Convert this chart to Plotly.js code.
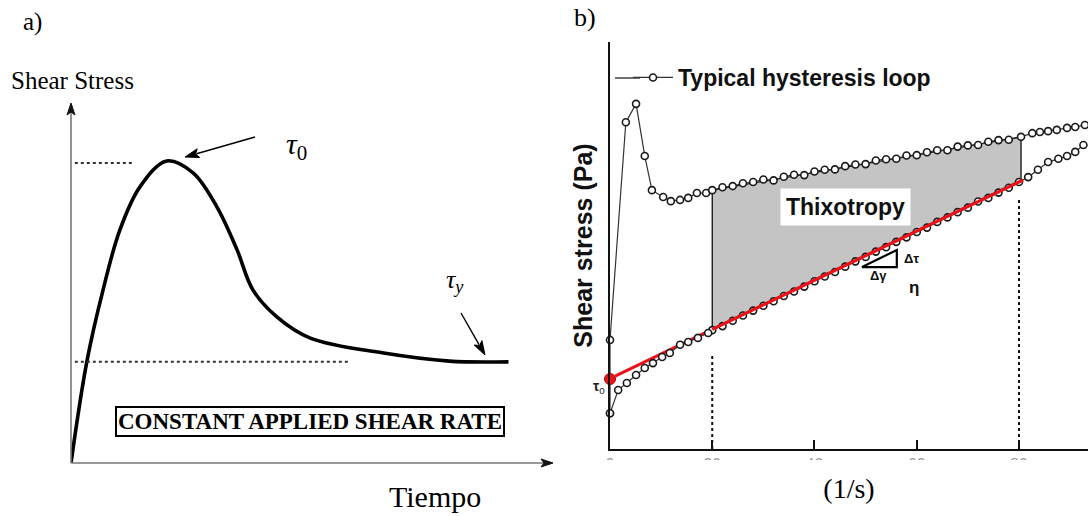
<!DOCTYPE html>
<html>
<head>
<meta charset="utf-8">
<script src="https://cdn.plot.ly/plotly-3.0.1.min.js"></script>
<style>html,body{margin:0;padding:0;background:#fff;}#chart{width:1088px;height:516px;}</style>
</head>
<body>
<div id="chart"></div>
<script>
// ---------- Panel a: stress growth at constant shear rate ----------
const curveTime   = [0, 0.33, 0.67, 1.02, 1.44, 2.0, 2.55, 3.05, 3.47, 3.80, 4.30, 5.0, 6.5, 7.9, 9.14];
const curveStress = [0, 2.81, 4.81, 6.47, 7.67, 8.39, 8.06, 7.11, 5.92, 4.81, 4.06, 3.47, 3.06, 2.83, 2.81];
const tau0Level = 8.33;   // peak stress
const tauyLevel = 2.81;   // equilibrium stress
const tau0GuideX = [0.08, 1.29];
const tauyGuideX = [0.08, 5.82];

// ---------- Panel b: hysteresis loop ----------
const upRate = [0, 0, 3.1, 5.1, 6.8, 8.2, 10.4, 11.9, 13.7, 15.3, 17.0, 18.8,
  20, 22, 24, 26, 28, 30, 32, 34, 36, 38, 40, 42, 44, 46, 48, 50, 52, 54, 56, 58,
  60, 62, 64, 66, 68, 70, 72, 74, 76, 78, 80.4, 82.6, 84.1, 85.7, 87.4, 89.4, 91.0, 92.9];
const upStress = [8.8, 26.8, 80.3, 84.8, 72.0, 63.6, 61.9, 60.9, 61.2, 61.7, 62.9, 62.9,
  63.6, 64.3, 64.6, 65.3, 65.6, 66.2, 66.0, 66.9, 67.4, 67.3, 68.2, 68.6, 68.7, 69.5, 69.9, 70.0, 70.9, 71.2, 71.3, 72.1,
  72.2, 72.9, 73.4, 73.4, 74.3, 74.6, 74.7, 75.5, 75.9, 76.0, 76.7, 77.6, 77.9, 78.1, 78.4, 78.9, 79.1, 79.6];
const downRate = [92.6, 91.0, 89.4, 87.7, 85.7, 83.7, 81.8,
  80, 78, 76, 74, 72, 70, 68, 66, 64, 62, 60, 58, 56, 54, 52, 50, 48, 46, 44, 42, 40, 38, 36, 34, 32, 30, 28, 26, 24, 22, 20,
  19.2, 17.2, 15.3, 13.7, 11.7, 10.2, 8.4, 6.8, 5.1, 3.3, 1.6, 0];
const downStress = [74.7, 73.0, 72.0, 71.3, 70.5, 68.6, 66.8,
  65.6, 64.2, 63.0, 61.7, 60.8, 59.3, 58.2, 56.9, 55.8, 54.4, 53.3, 52.0, 50.9, 49.6, 48.5, 47.2, 46.1, 44.8, 43.5, 42.4, 41.2, 39.9, 38.7, 37.6, 36.3, 35.2, 34.0, 32.8, 31.5, 30.2, 29.2,
  28.5, 27.3, 26.3, 25.6, 23.6, 22.6, 21.1, 19.9, 18.2, 16.2, 14.5, 8.8];
const thixoRate   = [20, 80.4, 80.4, 20, 20];
const thixoStress = [63.6, 76.7, 66.1, 29.5, 63.6];
const binghamRate   = [1, 20, 80.8];
const binghamStress = [17.9, 29.4, 66.1];
const yieldStress = [17.2];
const guideRate = [20, 80];
const guideTop  = [23.6, 61.9];
const rateTicks = [0, 20, 40, 60, 80];

const W = 1088, H = 516;
const px = v => v / W, py = v => 1 - v / H;

const serif = 'Liberation Serif, Times New Roman, serif';
const sans = 'Liberation Sans, Arial, sans-serif';

const loopMarker = {symbol: 'circle', size: 7, color: '#ffffff', line: {color: '#1a1a1a', width: 1.6}};

const traces = [
  // panel a
  {x: curveTime, y: curveStress, xaxis: 'x', yaxis: 'y', mode: 'lines', showlegend: false,
   line: {color: '#000', width: 3.6, shape: 'spline', smoothing: 1}},
  {x: tau0GuideX, y: [tau0Level, tau0Level], xaxis: 'x', yaxis: 'y', mode: 'lines', showlegend: false,
   line: {color: '#333', width: 2, dash: 'dot'}},
  {x: tauyGuideX, y: [tauyLevel, tauyLevel], xaxis: 'x', yaxis: 'y', mode: 'lines', showlegend: false,
   line: {color: '#333', width: 2, dash: 'dot'}},
  // panel b
  {x: thixoRate, y: thixoStress, xaxis: 'x2', yaxis: 'y2', mode: 'lines', fill: 'toself', showlegend: false,
   fillcolor: '#c4c4c4', line: {color: '#111', width: 1.3}},
  {x: [guideRate[0], guideRate[0]], y: [0, guideTop[0]], xaxis: 'x2', yaxis: 'y2', mode: 'lines', showlegend: false,
   line: {color: '#111', width: 2, dash: 'dot'}},
  {x: [guideRate[1], guideRate[1]], y: [0, guideTop[1]], xaxis: 'x2', yaxis: 'y2', mode: 'lines', showlegend: false,
   line: {color: '#111', width: 2, dash: 'dot'}},
  {x: binghamRate.slice(0, 2), y: binghamStress.slice(0, 2), xaxis: 'x2', yaxis: 'y2', mode: 'lines', showlegend: false,
   line: {color: '#ea1218', width: 3.2}},
  {x: upRate, y: upStress, xaxis: 'x2', yaxis: 'y2', mode: 'lines+markers', name: '<b>Typical hysteresis loop</b>',
   cliponaxis: false, line: {color: '#333', width: 1.2}, marker: loopMarker},
  {x: downRate, y: downStress, xaxis: 'x2', yaxis: 'y2', mode: 'lines+markers', showlegend: false,
   cliponaxis: false, line: {color: '#333', width: 1.2}, marker: loopMarker},
  {x: binghamRate.slice(1), y: binghamStress.slice(1), xaxis: 'x2', yaxis: 'y2', mode: 'lines', showlegend: false,
   line: {color: '#ea1218', width: 3.2}},
  {x: [0], y: yieldStress, xaxis: 'x2', yaxis: 'y2', mode: 'markers', showlegend: false, cliponaxis: false,
   marker: {color: '#e3161c', size: 11, line: {color: '#b00', width: 1}}}
];

// arrow helper (decorations drawn in pixel space -> paper coords)
function arrow(x0, y0, x1, y1, lineColor, headColor, lw, hl, hw) {
  const dx = x1 - x0, dy = y1 - y0, L = Math.hypot(dx, dy);
  const ux = dx / L, uy = dy / L;
  const bx = x1 - ux * hl, by = y1 - uy * hl;
  const nx = -uy, ny = ux;
  const lx = bx + nx * hw / 2, ly = by + ny * hw / 2;
  const rx = bx - nx * hw / 2, ry = by - ny * hw / 2;
  return [
    {type: 'line', xref: 'paper', yref: 'paper', x0: px(x0), y0: py(y0), x1: px(bx + ux * 2), y1: py(by + uy * 2),
     line: {color: lineColor, width: lw}},
    {type: 'path', xref: 'paper', yref: 'paper',
     path: `M${px(x1)},${py(y1)} L${px(lx)},${py(ly)} L${px(bx + ux * 3)},${py(by + uy * 3)} L${px(rx)},${py(ry)} Z`,
     line: {color: headColor, width: 1}, fillcolor: headColor}
  ];
}

const annotations = [
  // panel a labels
  {xref: 'paper', yref: 'paper', x: px(72), y: py(80), xanchor: 'center', yanchor: 'middle', text: 'Shear Stress', showarrow: false,
   font: {family: serif, size: 25, color: '#000'}},
  {xref: 'paper', yref: 'paper', x: px(32), y: py(22), xanchor: 'center', yanchor: 'middle', text: 'a)', showarrow: false,
   font: {family: serif, size: 25, color: '#000'}},
  {xref: 'paper', yref: 'paper', x: px(435), y: py(496), xanchor: 'center', yanchor: 'middle', text: 'Tiempo', showarrow: false,
   font: {family: serif, size: 30, color: '#000'}},
  {xref: 'x', yref: 'y', x: 4.72, y: 8.8, text: '<i>τ</i><sub>0</sub>', showarrow: false,
   font: {family: serif, size: 30, color: '#000'}},
  {xref: 'x', yref: 'y', x: 8.02, y: 5.05, text: '<i>τ</i><sub><i>y</i></sub>', showarrow: false,
   font: {family: serif, size: 26, color: '#000'}},
  {xref: 'x', yref: 'y', x: 4.99, y: 1.14, text: '<b>CONSTANT APPLIED SHEAR RATE</b>', showarrow: false,
   bordercolor: '#000', borderwidth: 2, borderpad: 1, bgcolor: '#fff',
   font: {family: serif, size: 23, color: '#000'}},
  // panel b labels
  {xref: 'paper', yref: 'paper', x: px(585), y: py(18), xanchor: 'center', yanchor: 'middle', text: 'b)', showarrow: false,
   font: {family: serif, size: 26, color: '#000'}},
  {xref: 'x2', yref: 'y2', x: 46.0, y: 59.5, text: '<b>Thixotropy</b>', showarrow: false,
   bgcolor: '#ffffff', borderpad: 5,
   font: {family: sans, size: 23, color: '#111'}},
  {xref: 'x2', yref: 'y2', x: 58.9, y: 46.7, text: '<b>Δτ</b>', showarrow: false,
   font: {family: sans, size: 13, color: '#111'}},
  {xref: 'x2', yref: 'y2', x: 52.6, y: 42.6, text: '<b>Δγ</b>', showarrow: false,
   font: {family: sans, size: 13, color: '#111'}},
  {xref: 'x2', yref: 'y2', x: 59.5, y: 39.6, text: '<b>η</b>', showarrow: false,
   font: {family: sans, size: 17, color: '#111'}},
  {xref: 'paper', yref: 'paper', x: px(599), y: py(387), xanchor: 'center', yanchor: 'middle', text: '<b>τ</b><sub>0</sub>', showarrow: false,
   font: {family: sans, size: 14, color: '#222'}}
];

const shapes = [].concat(
  arrow(71, 463, 71, 103, '#777', '#111', 1.6, 12, 8),
  arrow(71, 463, 553, 463, '#777', '#111', 1.6, 12, 8),
  arrow(255, 137, 185, 157, '#000', '#000', 1.4, 14, 9),
  arrow(461, 313, 485, 355, '#000', '#000', 1.4, 14, 9),
  [
    // slope triangle
    {type: 'path', xref: 'x2', yref: 'y2', path: 'M49.3,44.7 L56.1,44.7 L56.1,48.9 Z',
     line: {color: '#000', width: 2.2}, fillcolor: 'rgba(0,0,0,0)'},
    // legend line extension to the left
    {type: 'line', xref: 'paper', yref: 'paper', x0: px(615), x1: px(640), y0: py(78), y1: py(78),
     line: {color: '#333', width: 1.4}},
    // tick labels only partly visible in the source
    {type: 'rect', xref: 'paper', yref: 'paper', x0: px(600), x1: 1, y0: py(478), y1: py(460),
     line: {width: 0}, fillcolor: '#ffffff', layer: 'above'}
  ]
);

const layout = {
  width: W, height: H,
  margin: {l: 0, r: 0, t: 0, b: 0},
  paper_bgcolor: '#fff', plot_bgcolor: 'rgba(0,0,0,0)',
  showlegend: true,
  legend: {x: px(628), y: py(56), xanchor: 'left', yanchor: 'top', bgcolor: 'rgba(0,0,0,0)',
           font: {family: sans, size: 23, color: '#111'}, itemwidth: 40,
           tracegroupgap: 0},
  xaxis: {domain: [px(71), px(564)], range: [0, 10.3], visible: false, fixedrange: true},
  yaxis: {domain: [py(463), py(103)], range: [0, 10], visible: false, fixedrange: true},
  xaxis2: {domain: [px(610), 1], range: [0, 93.5], anchor: 'y2',
           showline: true, linecolor: '#111', linewidth: 2, showgrid: false, zeroline: false,
           tickvals: rateTicks, ticktext: rateTicks.map(String), ticks: 'inside', ticklen: 9, tickwidth: 2, tickcolor: '#111',
           tickfont: {family: sans, size: 16, color: '#999'},
           title: {text: '(1/s)', font: {family: serif, size: 28, color: '#000'}, standoff: 6}},
  yaxis2: {domain: [py(449), py(42)], range: [0, 100], anchor: 'x2',
           showline: true, linecolor: '#111', linewidth: 2.5, showgrid: false, zeroline: false,
           showticklabels: false, ticks: '',
           title: {text: '<b>Shear stress (Pa)</b>', font: {family: sans, size: 25, color: '#111'}, standoff: 8}},
  annotations: annotations,
  shapes: shapes
};

Plotly.newPlot('chart', traces, layout, {displayModeBar: false, staticPlot: true});
</script>
</body>
</html>
